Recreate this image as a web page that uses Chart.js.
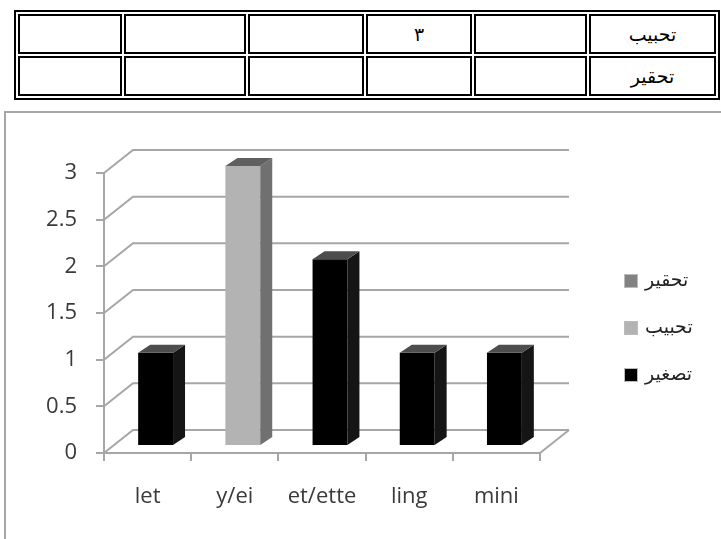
<!DOCTYPE html>
<html>
<head>
<meta charset="utf-8">
<script src="https://cdn.jsdelivr.net/npm/chart.js@4.4.1/dist/chart.umd.min.js"></script>
<style>
  body { margin: 0; background: #fff; width: 721px; height: 539px; overflow: hidden; position: relative; }
  table.grid {
    position: absolute; right: 1px; top: 10px;
    border: 2px solid #000; border-collapse: separate; border-spacing: 2px;
    font-family: 'DejaVu Sans', sans-serif; font-size: 19px;
  }
  table.grid td {
    box-sizing: border-box; border: 2px solid #000; height: 40px; padding: 0;
    text-align: center; vertical-align: middle;
  }
  .frame {
    position: absolute; left: 4px; top: 111px; width: 800px; height: 500px;
    border: 2px solid #a6a6a6;
  }
  canvas { position: absolute; left: 0; top: 0; }
</style>
</head>
<body>
<table class="grid" dir="rtl">
  <tr><td style="width:127px">تحبيب</td><td style="width:113px"></td><td style="width:106px">٣</td><td style="width:116px"></td><td style="width:122px"></td><td style="width:104px"></td></tr>
  <tr><td>تحقير</td><td></td><td></td><td></td><td></td><td></td></tr>
</table>
<div class="frame"><canvas id="myChart" width="715" height="426"></canvas></div>
<script>
const categories = ['let', 'y/ei', 'et/ette', 'ling', 'mini'];
const seriesNames = ['تصغير', 'تحبيب', 'تحقير'];
const tasghir = [1, null, 2, 1, 1];
const tahbib = [null, 3, null, null, null];
const tahqir = [null, null, null, null, null];
const yMax = 3;
const yStep = 0.5;

const frontColors = ['#000000', '#b3b3b3', '#828282'];
const sideColors = ['#151515', '#707070', '#555555'];
const topColors = ['#4d4d4d', '#606060', '#4a4a4a'];
const gridColor = '#a6a6a6';

// 3d look: back wall offset, bar offset and bar depth
const wallX = 29, wallY = 23;
const shiftX = 8, shiftY = 7;
const depthX = 12, depthY = 8;

const fake3d = {
  id: 'fake3d',
  beforeDatasetsDraw(chart) {
    const { ctx, chartArea: a, scales: { y } } = chart;
    ctx.save();
    ctx.strokeStyle = gridColor;
    ctx.lineWidth = 2;
    y.ticks.forEach(t => {
      const py = y.getPixelForValue(t.value);
      ctx.beginPath();
      ctx.moveTo(a.left, py);
      ctx.lineTo(a.left + wallX, py - wallY);
      ctx.lineTo(a.right + wallX, py - wallY);
      ctx.stroke();
    });
    ctx.beginPath();
    ctx.moveTo(a.right, a.bottom);
    ctx.lineTo(a.right + wallX, a.bottom - wallY);
    ctx.stroke();
    ctx.restore();
    ctx.save();
    ctx.translate(shiftX, -shiftY);
  },
  afterDatasetsDraw(chart) {
    const ctx = chart.ctx;
    chart.data.datasets.forEach((ds, i) => {
      const meta = chart.getDatasetMeta(i);
      meta.data.forEach((bar, j) => {
        if (ds.data[j] == null) return;
        const { x, y, base, width } = bar.getProps(['x', 'y', 'base', 'width'], true);
        const l = x - width / 2, r = x + width / 2;
        ctx.fillStyle = sideColors[i];
        ctx.beginPath();
        ctx.moveTo(r, base);
        ctx.lineTo(r, y);
        ctx.lineTo(r + depthX, y - depthY);
        ctx.lineTo(r + depthX, base - depthY);
        ctx.closePath();
        ctx.fill();
        ctx.fillStyle = topColors[i];
        ctx.beginPath();
        ctx.moveTo(l, y);
        ctx.lineTo(l + depthX, y - depthY);
        ctx.lineTo(r + depthX, y - depthY);
        ctx.lineTo(r, y);
        ctx.closePath();
        ctx.fill();
      });
    });
    ctx.restore();
  },
  afterDraw(chart) {
    // legend, drawn in reverse order like the original
    const ctx = chart.ctx;
    const a = chart.chartArea;
    const boxX = a.right + 84;
    const firstY = 168;
    const gap = 47;
    ctx.save();
    ctx.font = "19px 'DejaVu Sans', sans-serif";
    ctx.textBaseline = 'middle';
    ctx.textAlign = 'left';
    const order = [2, 1, 0];
    order.forEach((di, k) => {
      const ds = chart.data.datasets[di];
      const cy = firstY + k * gap;
      ctx.fillStyle = ds.backgroundColor;
      ctx.fillRect(boxX, cy - 7, 14, 14);
      ctx.strokeStyle = '#bbbbbb';
      ctx.lineWidth = 1;
      ctx.strokeRect(boxX + 0.5, cy - 6.5, 13, 13);
      ctx.fillStyle = '#222222';
      ctx.fillText(ds.label, boxX + 21, cy);
    });
    ctx.restore();
  }
};

Chart.defaults.font.family = "'Open Sans', sans-serif";
Chart.defaults.color = '#3a3a3a';

const ctx = document.getElementById('myChart').getContext('2d');
const myChart = new Chart(ctx, {
  type: 'bar',
  data: {
    labels: categories,
    datasets: [
      { label: seriesNames[0], data: tasghir, backgroundColor: frontColors[0] },
      { label: seriesNames[1], data: tahbib, backgroundColor: frontColors[1] },
      { label: seriesNames[2], data: tahqir, backgroundColor: frontColors[2] }
    ]
  },
  options: {
    responsive: false,
    animation: false,
    datasets: {
      bar: { grouped: false, barPercentage: 0.4, categoryPercentage: 1, borderWidth: 0, clip: false }
    },
    layout: { padding: { left: 0, top: 60, right: 181, bottom: 0 } },
    scales: {
      x: {
        grid: { drawOnChartArea: false, color: gridColor, lineWidth: 2, tickLength: 8 },
        border: { color: gridColor, width: 2 },
        ticks: { font: { size: 22 }, padding: 23, maxRotation: 0 },
        afterFit: s => { s.height = 86; }
      },
      y: {
        min: 0,
        max: yMax,
        grid: { drawOnChartArea: false, color: gridColor, lineWidth: 2, tickLength: 8 },
        border: { color: gridColor, width: 2 },
        ticks: { stepSize: yStep, font: { size: 22 }, padding: 19, callback: v => String(v) },
        afterFit: s => { s.width = 98; }
      }
    },
    plugins: {
      legend: { display: false },
      tooltip: { enabled: false }
    }
  },
  plugins: [fake3d]
});
</script>
</body>
</html>
